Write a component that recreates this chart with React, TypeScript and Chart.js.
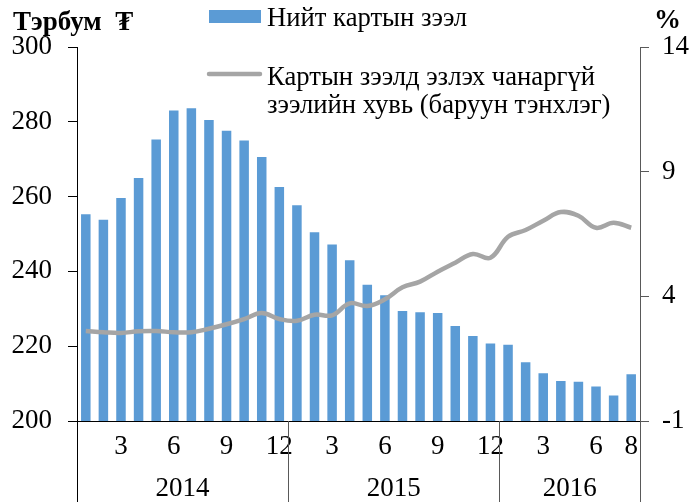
import React, { useEffect, useRef } from "react";
import { Chart, registerables } from "chart.js";

Chart.register(...registerables);

// Monthly categories Jan 2014 – Aug 2016
const monthLabels = [
  "1","2","3","4","5","6","7","8","9","10","11","12",
  "1","2","3","4","5","6","7","8","9","10","11","12",
  "1","2","3","4","5","6","7","8",
];
const shownMonthTicks = ["3", "6", "9", "12"];
const lastMonthLabel = "8";
const yearLabels = ["2014", "2015", "2016"];
const yearSpans = [12, 12, 8];

// Total card loans, billion MNT (left axis)
const cardLoans = [
  255.3, 253.8, 259.6, 265.0, 275.3, 283.0, 283.6, 280.5, 277.6, 275.0, 270.6, 262.6,
  257.7, 250.5, 247.2, 243.0, 236.4, 233.6, 229.4, 229.1, 228.9, 225.4, 222.7, 220.7,
  220.4, 215.7, 212.8, 210.7, 210.5, 209.2, 206.8, 212.5,
];
// NPL share in card loans, % (right axis)
const nplShare = [
  2.61, 2.56, 2.53, 2.60, 2.61, 2.56, 2.56, 2.70, 2.88, 3.09, 3.33, 3.09,
  3.02, 3.26, 3.24, 3.72, 3.61, 3.88, 4.36, 4.59, 4.99, 5.35, 5.70, 5.55,
  6.39, 6.66, 7.03, 7.38, 7.23, 6.75, 6.95, 6.75,
];

const leftTicks = { min: 200, max: 300, step: 20 };
const rightTicks = { min: -1, max: 14, step: 5 };

const barLegend = "Нийт картын зээл";
const lineLegend = ["Картын зээлд эзлэх чанаргүй", "зээлийн хувь (баруун тэнхлэг)"];
const leftTitle = "Тэрбум  ₮";
const rightTitle = "%";

const BAR_COLOR = "#5b9bd5";
const LINE_COLOR = "#a5a5a5";
const FONT = '"Liberation Serif"';

export default function App() {
  const ref = useRef<HTMLCanvasElement | null>(null);

  useEffect(() => {
    const canvas = ref.current;
    if (!canvas) return;
    let chart: any = null;
    let cancelled = false;

    const overlay = {
      id: "overlay",
      afterDraw(c: any) {
        const { ctx, chartArea } = c;
        const H = c.height;
        ctx.save();
        const step = (chartArea.right - chartArea.left) / monthLabels.length;
        const bounds: number[] = [chartArea.left];
        let idx = 0;
        yearSpans.forEach((s) => {
          idx += s;
          bounds.push(chartArea.left + idx * step);
        });
        ctx.lineWidth = 1;
        bounds.forEach((b, i) => {
          ctx.strokeStyle = i === 0 ? "#000000" : "#595959";
          ctx.beginPath();
          const px = Math.round(b) + 0.5;
          ctx.moveTo(px, chartArea.bottom);
          ctx.lineTo(px, H);
          ctx.stroke();
        });
        ctx.fillStyle = "#000";
        ctx.font = `27px ${FONT}`;
        ctx.textAlign = "center";
        ctx.textBaseline = "middle";
        yearLabels.forEach((y, i) => {
          ctx.fillText(y, (bounds[i] + bounds[i + 1]) / 2, 489);
        });
        ctx.font = `bold 27px ${FONT}`;
        ctx.textAlign = "left";
        ctx.textBaseline = "alphabetic";
        ctx.fillText(leftTitle, 13, 30);
        ctx.fillText(rightTitle, 654, 28);
        ctx.fillStyle = BAR_COLOR;
        ctx.fillRect(209, 10, 52, 13);
        ctx.strokeStyle = LINE_COLOR;
        ctx.lineWidth = 4.5;
        ctx.lineCap = "round";
        ctx.beginPath();
        ctx.moveTo(209, 74);
        ctx.lineTo(260, 74);
        ctx.stroke();
        ctx.fillStyle = "#000";
        ctx.font = `26.67px ${FONT}`;
        ctx.fillText(barLegend, 267, 26);
        ctx.fillText(lineLegend[0], 267, 85);
        ctx.fillText(lineLegend[1], 267, 113);
        ctx.restore();
      },
    };

    const build = () => {
      if (cancelled) return;
      chart = new Chart(canvas, {
        type: "bar",
        data: {
          labels: monthLabels,
          datasets: [
            {
              type: "line",
              label: lineLegend.join(" "),
              data: nplShare,
              yAxisID: "y1",
              borderColor: LINE_COLOR,
              borderWidth: 4.5,
              pointRadius: 0,
              tension: 0.4,
              order: 0,
            } as any,
            {
              type: "bar",
              label: barLegend,
              data: cardLoans,
              yAxisID: "y",
              backgroundColor: BAR_COLOR,
              barPercentage: 0.54,
              categoryPercentage: 1,
              order: 1,
            },
          ],
        },
        options: {
          animation: false,
          responsive: false,
          maintainAspectRatio: false,
          layout: { padding: { top: 47, left: 0, right: 0, bottom: 0 } },
          plugins: { legend: { display: false }, tooltip: { enabled: false } },
          scales: {
            x: {
              grid: { display: false, drawTicks: false },
              border: { display: true, color: "#000", width: 1 },
              ticks: {
                autoSkip: false,
                maxRotation: 0,
                padding: 10,
                color: "#000",
                font: { family: FONT, size: 27 },
                callback: (_v: any, i: number) => {
                  const l = monthLabels[i];
                  if (i === monthLabels.length - 1) return l === lastMonthLabel ? l : "";
                  return shownMonthTicks.includes(l) ? l : "";
                },
              },
              afterFit: (s: any) => {
                s.height = 81;
              },
            },
            y: {
              position: "left",
              min: leftTicks.min,
              max: leftTicks.max,
              grid: { drawOnChartArea: false, tickLength: 9, color: "#000" },
              border: { color: "#000", width: 1 },
              ticks: {
                stepSize: leftTicks.step,
                padding: 16,
                color: "#000",
                font: { family: FONT, size: 27 },
              },
              afterFit: (s: any) => {
                s.width = 77;
              },
            },
            y1: {
              position: "right",
              min: rightTicks.min,
              max: rightTicks.max,
              grid: { drawOnChartArea: false, tickLength: 9, color: "#595959" },
              border: { color: "#595959", width: 1 },
              ticks: {
                stepSize: rightTicks.step,
                padding: 13,
                color: "#000",
                font: { family: FONT, size: 27 },
              },
              afterFit: (s: any) => {
                s.width = 55;
              },
            },
          },
        },
        plugins: [overlay],
      });
    };

    const fonts: any = (document as any).fonts;
    if (fonts && fonts.load) {
      Promise.all([
        fonts.load(`27px ${FONT}`, "0123456789Тэрбум"),
        fonts.load(`bold 27px ${FONT}`, "Тэрбум%"),
      ])
        .catch(() => null)
        .then(build);
    } else {
      build();
    }
    return () => {
      cancelled = true;
      if (chart) chart.destroy();
    };
  }, []);

  return (
    <div style={{ position: "absolute", left: 0, top: 0, width: 695, height: 502, background: "#fff" }}>
      <span style={{ fontFamily: FONT, position: "absolute", visibility: "hidden" }}>Тэрбум 0123</span>
      <canvas ref={ref} width={695} height={502} style={{ width: 695, height: 502, display: "block" }} />
    </div>
  );
}
